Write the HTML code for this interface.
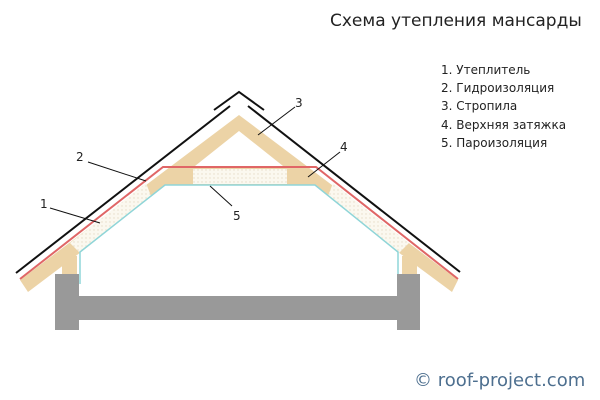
<!DOCTYPE html>
<html><head><meta charset="utf-8"><style>
body{margin:0;background:#fff}
svg{display:block;font-family:"DejaVu Sans","Liberation Sans",sans-serif}
</style></head><body>
<svg width="600" height="400" viewBox="0 0 600 400">
<defs><pattern id="ins" width="4" height="4" patternUnits="userSpaceOnUse"><rect width="4" height="4" fill="#fbf8ef"/><circle cx="2" cy="2" r="0.7" fill="#e6dcc6"/></pattern></defs>
<text x="330" y="26" font-size="17" fill="#222">Схема утепления мансарды</text>
<g font-size="12" fill="#222">
<text x="441" y="74">1. Утеплитель</text>
<text x="441" y="92">2. Гидроизоляция</text>
<text x="441" y="110">3. Стропила</text>
<text x="441" y="129">4. Верхняя затяжка</text>
<text x="441" y="147">5. Пароизоляция</text>
</g>
<text x="414" y="386" font-size="18" fill="#4d6f8f">© roof-project.com</text>
<!-- tan -->
<path d="M20,280 L239,115 L458,280 L452,292 L398,252 L315,185 L165,185 L81,252 L28,292 Z" fill="#ecd3a6"/>
<path d="M239,131 L195,166 L283,166 Z" fill="#fff"/>
<rect x="62" y="256" width="15" height="19" fill="#ecd3a6"/>
<rect x="402" y="256" width="15" height="19" fill="#ecd3a6"/>
<!-- insulation -->
<polygon points="70,243 146,183 151,196 80,253" fill="url(#ins)"/>
<polygon points="409,243 333,183 328,196 399,253" fill="url(#ins)"/>
<rect x="193" y="169" width="94" height="15" fill="url(#ins)"/>
<!-- red -->
<polyline points="20,279 163,167 316,167 458,279" fill="none" stroke="#e06666" stroke-width="2"/>
<!-- cyan -->
<polyline points="80,284 80,252 165,185 315,185 398,252 398,284" fill="none" stroke="#8fd5d8" stroke-width="1.5"/>
<!-- gray -->
<path d="M55,274 H79 V296 H397 V274 H420 V330 H397 V320 H79 V330 H55 Z" fill="#999"/>
<!-- roof -->
<g stroke="#111" stroke-width="2" fill="none">
<line x1="16" y1="273" x2="230" y2="106"/>
<line x1="248" y1="106" x2="460" y2="272"/>
<polyline points="214,110 239,92 264,110"/>
</g>
<g stroke="#111" stroke-width="1">
<line x1="295" y1="107" x2="258" y2="135"/>
<line x1="88" y1="162" x2="146" y2="181"/>
<line x1="50" y1="208" x2="100" y2="223"/>
<line x1="340" y1="152" x2="308" y2="177"/>
<line x1="232" y1="206" x2="210" y2="186"/>
</g>
<g font-size="12" fill="#222">
<text x="295" y="107">3</text>
<text x="76" y="161">2</text>
<text x="40" y="208">1</text>
<text x="340" y="151">4</text>
<text x="233" y="220">5</text>
</g>
</svg>
</body></html>
